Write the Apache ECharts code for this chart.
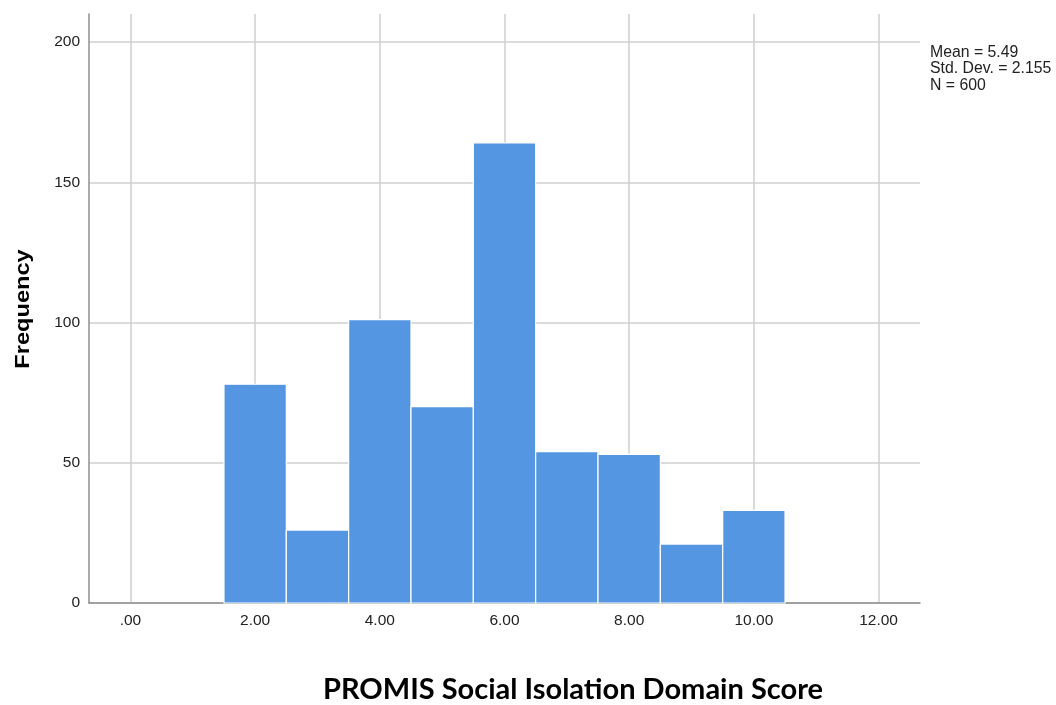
<!DOCTYPE html>
<html>
<head>
<meta charset="utf-8">
<script src="https://cdn.jsdelivr.net/npm/echarts@6/dist/echarts.min.js"></script>
<style>html,body{margin:0;padding:0;background:#fff;}#c{width:1056px;height:705px;}</style>
</head>
<body>
<div id="c"></div>
<script>
var binCenters = [2, 3, 4, 5, 6, 7, 8, 9, 10];
var frequencies = [78, 26, 101, 70, 164, 54, 53, 21, 33];
var binWidth = 1;
var xTickValues = [0, 2, 4, 6, 8, 10, 12];
var xTickLabels = ['.00', '2.00', '4.00', '6.00', '8.00', '10.00', '12.00'];
var yTickValues = [0, 50, 100, 150, 200];
var statsLines = ['Mean = 5.49', 'Std. Dev. = 2.155', 'N = 600'];
var xTitle = 'PROMIS Social Isolation Domain Score';
var yTitle = 'Frequency';

var barColor = '#5596E3';
var gridColor = '#cfcfcf';
var axisColor = '#8f8f8f';

var chart = echarts.init(document.getElementById('c'), null, {renderer: 'canvas'});
var data = binCenters.map(function (c, i) { return [c, frequencies[i]]; });

chart.setOption({
  animation: false,
  backgroundColor: '#ffffff',
  grid: {left: 89, right: 136, top: 14, bottom: 102, containLabel: false},
  xAxis: {
    type: 'value',
    min: -0.665,
    max: 12.665,
    axisLine: {show: true, onZero: false, lineStyle: {color: axisColor, width: 1.5}},
    axisTick: {show: false, customValues: xTickValues},
    axisLabel: {
      customValues: xTickValues,
      margin: 10,
      color: '#222',
      fontFamily: 'Liberation Sans, Arial, sans-serif',
      fontSize: 15.5,
      formatter: function (v) {
        var i = xTickValues.indexOf(v);
        return i >= 0 ? xTickLabels[i] : '';
      }
    },
    splitLine: {show: true, lineStyle: {color: gridColor, width: 1.5}}
  },
  yAxis: {
    type: 'value',
    min: 0,
    max: 210,
    axisLine: {show: true, onZero: false, lineStyle: {color: axisColor, width: 1.5}},
    axisTick: {show: false, customValues: yTickValues},
    axisLabel: {
      customValues: yTickValues,
      margin: 9,
      color: '#222',
      fontFamily: 'Liberation Sans, Arial, sans-serif',
      fontSize: 15.5
    },
    splitLine: {show: true, lineStyle: {color: gridColor, width: 1.5}}
  },
  series: [{
    type: 'custom',
    data: data,
    encode: {x: 0, y: 1},
    renderItem: function (params, api) {
      var x = api.value(0), y = api.value(1);
      var p0 = api.coord([x - binWidth / 2, y]);
      var p1 = api.coord([x + binWidth / 2, 0]);
      return {
        type: 'rect',
        shape: {x: p0[0], y: p0[1], width: p1[0] - p0[0], height: p1[1] - p0[1]},
        style: {fill: barColor, stroke: '#ffffff', lineWidth: 1.2}
      };
    }
  }],
  graphic: [
    {
      type: 'text',
      left: 930,
      top: 44,
      style: {
        text: statsLines.join('\n'),
        fill: '#222',
        font: '15.8px "Liberation Sans", Arial, sans-serif',
        lineHeight: 16.5
      }
    },
    {
      type: 'text',
      x: 23,
      y: 309,
      rotation: Math.PI / 2,
      scaleX: 1.18,
      style: {
        text: yTitle,
        fill: '#000',
        font: 'bold 20px "Liberation Sans", Arial, sans-serif',
        align: 'center',
        verticalAlign: 'middle'
      }
    },
    {
      type: 'text',
      x: 573,
      y: 690,
      style: {
        text: xTitle,
        fill: '#000',
        font: 'bold 29px Lato, "Open Sans", sans-serif',
        align: 'center',
        verticalAlign: 'middle'
      }
    }
  ]
});
</script>
</body>
</html>
